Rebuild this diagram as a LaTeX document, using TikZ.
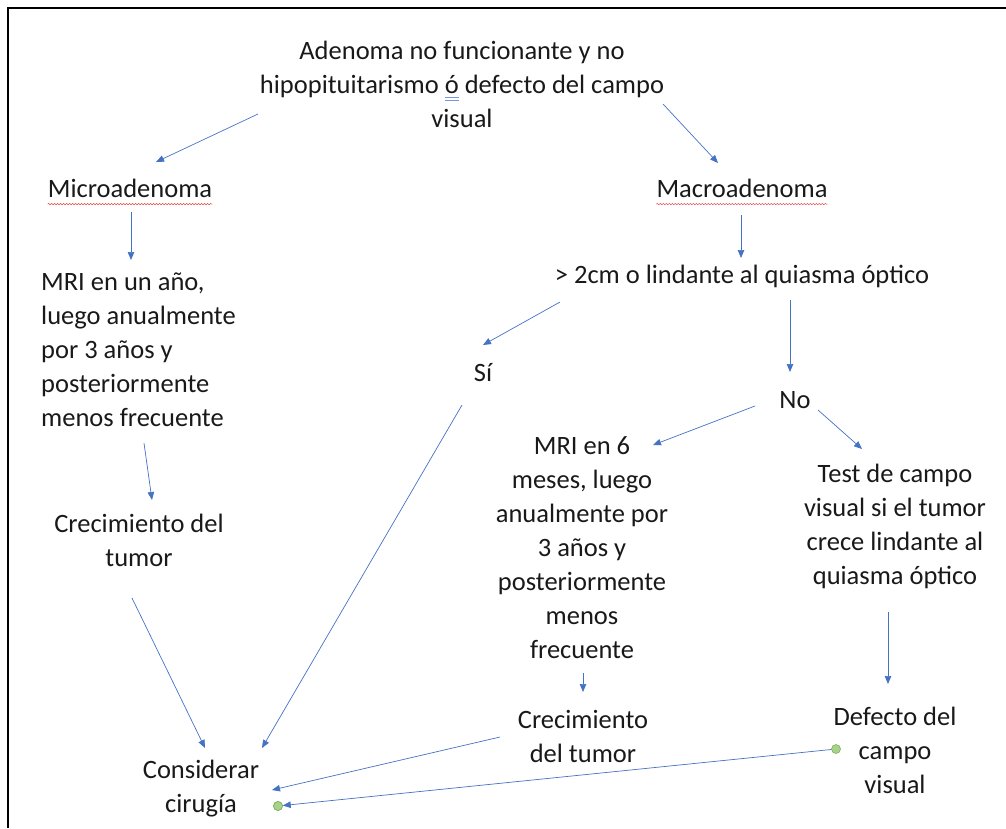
\documentclass[tikz,border=0pt]{standalone}
\usepackage{fontspec}
\setmainfont{Carlito}
\usetikzlibrary{arrows.meta,decorations.pathmorphing}
\definecolor{linkblue}{RGB}{68,114,196}
\definecolor{gramblue}{RGB}{120,150,220}
\definecolor{spellred}{RGB}{232,70,70}
\definecolor{dotgreen}{RGB}{169,209,142}
\definecolor{dotedge}{RGB}{112,173,71}
\newcommand{\flowfont}{\fontsize{26.5}{34}\selectfont}
\newcommand{\gramo}[1]{\setbox0\hbox{#1}%
  \rlap{\color{gramblue}\rule[-5pt]{\wd0}{0.9pt}}%
  \rlap{\color{gramblue}\rule[-8pt]{\wd0}{0.9pt}}#1}

\begin{document}
\begin{tikzpicture}[x=1pt,y=-1pt,
    every node/.style={font=\flowfont, text=black!90, inner sep=2pt, align=center},
    arr/.style={linkblue, line width=0.7pt, -{Triangle[length=8pt,width=6.5pt]}},
    spell/.style={spellred, line width=0.5pt, decorate,
      decoration={snake, amplitude=0.7pt, segment length=3pt}},
    dot/.style={circle, fill=dotgreen, draw=dotedge, line width=0.5pt,
      minimum size=9pt, inner sep=0pt}]

  \useasboundingbox (0,0) rectangle (1006,828);
  \draw[line width=2.5pt] (8,828) -- (8,8) -- (1006,8);

  % left branch
  \node (top) at (462,84) {\fontsize{26.5}{36}\selectfont Adenoma no funcionante y no\\
    hipopituitarismo \gramo{ó} defecto del campo\\ visual};
  \node (micro) at (130,188) {Microadenoma};
  \node[anchor=west, align=left] (mriA) at (39,350) {\fontsize{26.5}{33}\selectfont MRI en un año,\\
    luego anualmente\\ por 3 años y\\ posteriormente\\ menos frecuente};
  \node (growA) at (139,540) {Crecimiento del\\ tumor};
  \node (surgery) at (201,789) {Considerar\\ cirugía};

  % right branch
  \node (macro) at (742,188) {Macroadenoma};
  \node (size) at (742,276) {> 2cm o lindante al quiasma óptico};
  \node (yes) at (483,373) {Sí};
  \node (no) at (795,400) {No};
  \node (mriB) at (582,548) {MRI en 6\\ meses, luego\\ anualmente por\\ 3 años y\\
    posteriormente\\ menos\\ frecuente};
  \node (growB) at (583,736) {Crecimiento\\ del tumor};
  \node (test) at (895,526) {Test de campo\\ visual si el tumor\\ crece lindante al\\ quiasma óptico};
  \node (defect) at (895,750) {Defecto del\\ campo\\ visual};

  % spelling marks
  \draw[spell] ([xshift=2pt,yshift=-7pt]micro.base west) -- ([xshift=-2pt,yshift=-7pt]micro.base east);
  \draw[spell] ([xshift=2pt,yshift=-7pt]macro.base west) -- ([xshift=-2pt,yshift=-7pt]macro.base east);

  % connectors
  \draw[arr] ([shift={(-204,30)}]top.center) -- ([shift={(26,-26)}]micro.center);
  \draw[arr] ([shift={(201,20)}]top.center) -- ([shift={(-24,-25)}]macro.center);
  \draw[arr] ([shift={(1,24)}]micro.center) -- ([shift={(92,-90)}]mriA.west);
  \draw[arr] ([shift={(105,93)}]mriA.west) -- ([shift={(13,-40)}]growA.center);
  \draw[arr] ([shift={(-7,58)}]growA.center) -- ([shift={(4,-41)}]surgery.center);
  \draw[arr] ([shift={(-1,27)}]macro.center) -- ([shift={(-1,-18)}]size.center);
  \draw[arr] ([shift={(-182,26)}]size.center) -- ([shift={(0,-28)}]yes.center);
  \draw[arr] ([shift={(48,24)}]size.center) -- ([shift={(-5,-28)}]no.center);
  \draw[arr] ([shift={(-21,32)}]yes.center) -- ([shift={(61,-41)}]surgery.center);
  \draw[arr] ([shift={(-40,6)}]no.center) -- ([shift={(71,-103)}]mriB.center);
  \draw[arr] ([shift={(23,10)}]no.center) -- ([shift={(-33,-77)}]test.center);
  \draw[arr] ([shift={(1,125)}]mriB.center) -- ([shift={(0,-44)}]growB.center);
  \draw[arr] ([shift={(-7,86)}]test.center) -- ([shift={(-7,-66)}]defect.center);
  \draw[arr] ([shift={(-83,1)}]growB.center) -- ([shift={(71,1)}]surgery.center);

  % connector with end dots
  \node[dot] (dotR) at ([shift={(-59,-1)}]defect.center) {};
  \node[dot] (dotL) at ([shift={(77,17)}]surgery.center) {};
  \draw[arr] (dotR) -- (dotL);
  \node[dot] at (dotL) {};
\end{tikzpicture}
\end{document}
